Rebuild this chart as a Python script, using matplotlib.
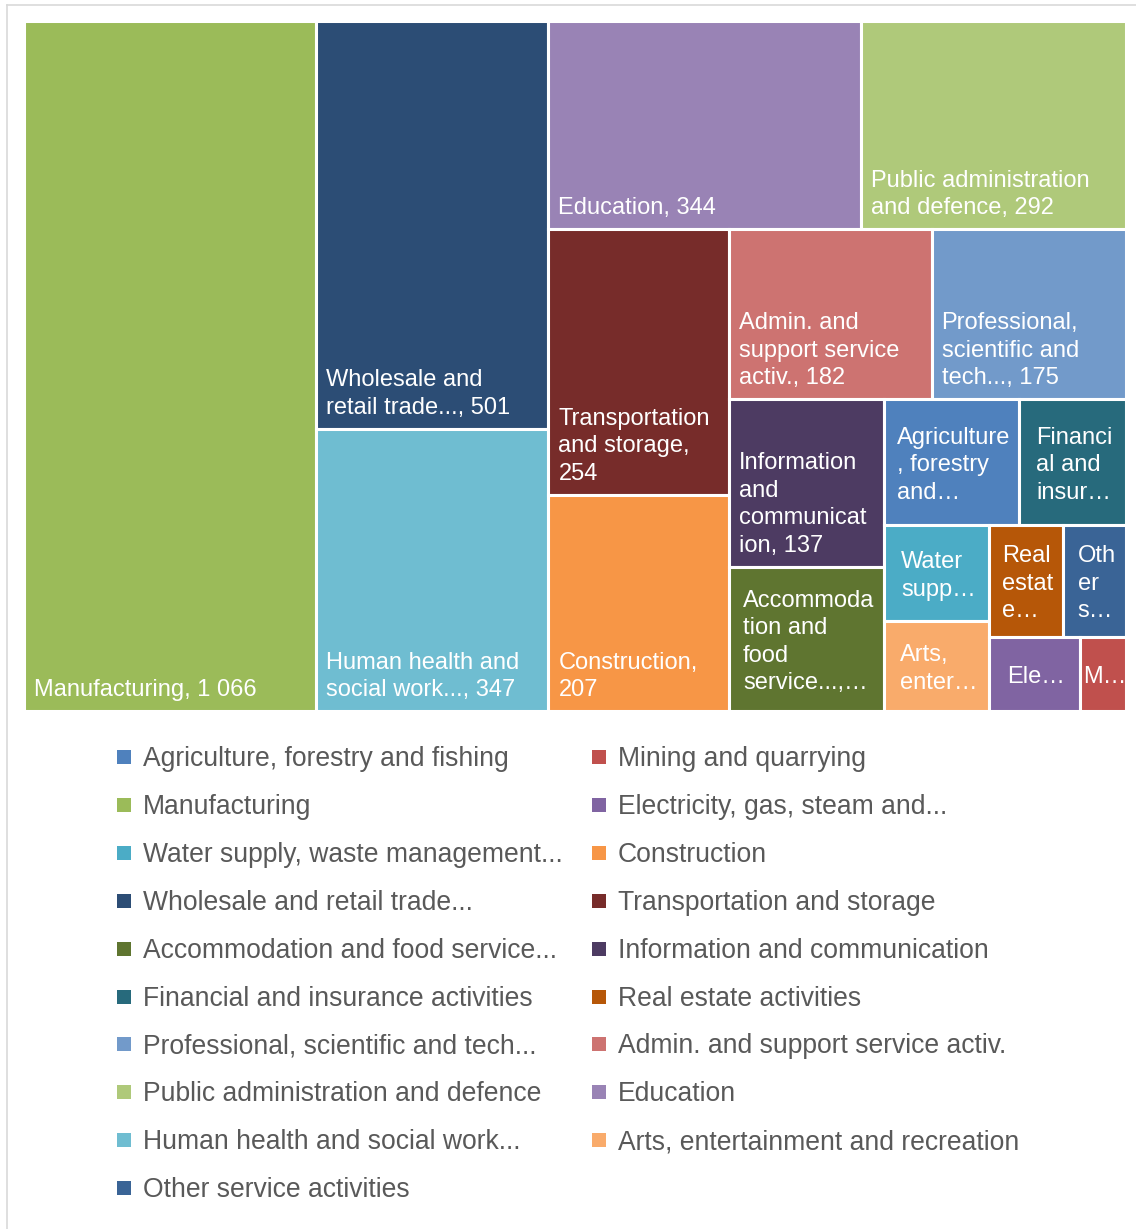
import matplotlib
matplotlib.use("Agg")
import matplotlib.pyplot as plt
from matplotlib.patches import Rectangle
from matplotlib.lines import Line2D

plt.rcParams['font.family'] = ['Liberation Sans', 'DejaVu Sans']

# ---- data (NACE order) ----
categories = [
    "Agriculture, forestry and fishing", "Mining and quarrying",
    "Manufacturing", "Electricity, gas, steam and...",
    "Water supply, waste management...", "Construction",
    "Wholesale and retail trade...", "Transportation and storage",
    "Accommodation and food service...", "Information and communication",
    "Financial and insurance activities", "Real estate activities",
    "Professional, scientific and tech...", "Admin. and support service activ.",
    "Public administration and defence", "Education",
    "Human health and social work...", "Arts, entertainment and recreation",
    "Other service activities",
]
values = [90, 18, 1066, 36, 53, 207, 501, 254, 118, 137,
          71, 44, 175, 182, 292, 344, 347, 50, 37]
tile_labels = [
    "Agriculture\n, forestry\nand…", "M…",
    "Manufacturing, 1 066", "Ele…",
    "Water\nsupp…", "Construction,\n207",
    "Wholesale and\nretail trade..., 501", "Transportation\nand storage,\n254",
    "Accommoda\ntion and\nfood\nservice...,…", "Information\nand\ncommunicat\nion, 137",
    "Financi\nal and\ninsur…", "Real\nestat\ne…",
    "Professional,\nscientific and\ntech..., 175", "Admin. and\nsupport service\nactiv., 182",
    "Public administration\nand defence, 292", "Education, 344",
    "Human health and\nsocial work..., 347", "Arts,\nenter…",
    "Oth\ner\ns…",
]
colors = [
    "#4F81BD", "#C0504D", "#9BBB59", "#8064A2", "#4BACC6", "#F79646",
    "#2C4D75", "#772C2A", "#5F7530", "#4D3B62", "#276A7C", "#B65708",
    "#729ACA", "#CD7371", "#AFC97A", "#9983B5", "#6FBDD1", "#F9AB6B",
    "#3A6496",
]
# strip grouping used by the layout (number of tiles per strip)
strip_sizes = [1, 2, 2, 2, 2, 2, 2, 2, 2, 1, 1]

FW, FH = 1136, 1229
fig = plt.figure(figsize=(FW / 100, FH / 100), dpi=100)

# plot area in pixels
PX0, PY0, PX1, PY1 = 24, 21, 1126, 711
W, H = PX1 - PX0, PY1 - PY0
ax = fig.add_axes([PX0 / FW, 1 - PY1 / FH, W / FW, H / FH])
ax.set_xlim(0, W)
ax.set_ylim(H, 0)
ax.set_axis_off()

order = sorted(range(len(values)), key=lambda i: -values[i])
total = sum(values)
areas = [values[i] / total * W * H for i in order]


def strip_layout(areas, groups, x, y, w, h):
    rects = []
    i = 0
    for g in groups:
        items = areas[i:i + g]
        s = sum(items)
        if w >= h:
            cw = s / h
            yy = y
            for a in items:
                hh = a / cw
                rects.append((x, yy, cw, hh))
                yy += hh
            x += cw
            w -= cw
        else:
            rh = s / w
            xx = x
            for a in items:
                ww = a / rh
                rects.append((xx, y, ww, rh))
                xx += ww
            y += rh
            h -= rh
        i += g
    return rects


rects = strip_layout(areas, strip_sizes, 0, 0, W, H)

for idx, (x, y, w, h) in zip(order, rects):
    p = Rectangle((x, y), w, h, facecolor=colors[idx], edgecolor="white",
                  linewidth=2.2)
    ax.add_patch(p)
    lab = tile_labels[idx]
    if "…" in lab:
        t = ax.text(x + w / 2 + 2, y + h / 2 + 3, lab, ha="center", va="center",
                    multialignment="left", color="white", fontsize=17,
                    linespacing=1.32)
    else:
        t = ax.text(x + 10, y + h - 15, lab, ha="left", va="baseline",
                    multialignment="left", color="white", fontsize=17,
                    linespacing=1.32)
    t.set_clip_path(p)

# ---- legend (row-major, two columns) ----
col_x = [117, 592]
row_y0, row_dy = 757, 47.9
for i, cat in enumerate(categories):
    r, c = divmod(i, 2)
    cy = row_y0 + r * row_dy
    mx = col_x[c]
    fig.add_artist(Rectangle((mx / FW, 1 - (cy + 7) / FH), 14 / FW, 14 / FH,
                             transform=fig.transFigure, facecolor=colors[i],
                             edgecolor="none"))
    fig.text((mx + 26) / FW, 1 - (cy + 9) / FH, cat, ha="left",
             va="baseline", fontsize=19.1, color="#595959")

# ---- chart border ----
fig.add_artist(Line2D([7 / FW, 7 / FW], [1 - 5 / FH, 0], transform=fig.transFigure,
                      color="#d9d9d9", linewidth=1.2))
fig.add_artist(Line2D([7 / FW, 1], [1 - 5 / FH, 1 - 5 / FH], transform=fig.transFigure,
                      color="#d9d9d9", linewidth=1.2))

fig.savefig("out.png", dpi=100, facecolor="white")
